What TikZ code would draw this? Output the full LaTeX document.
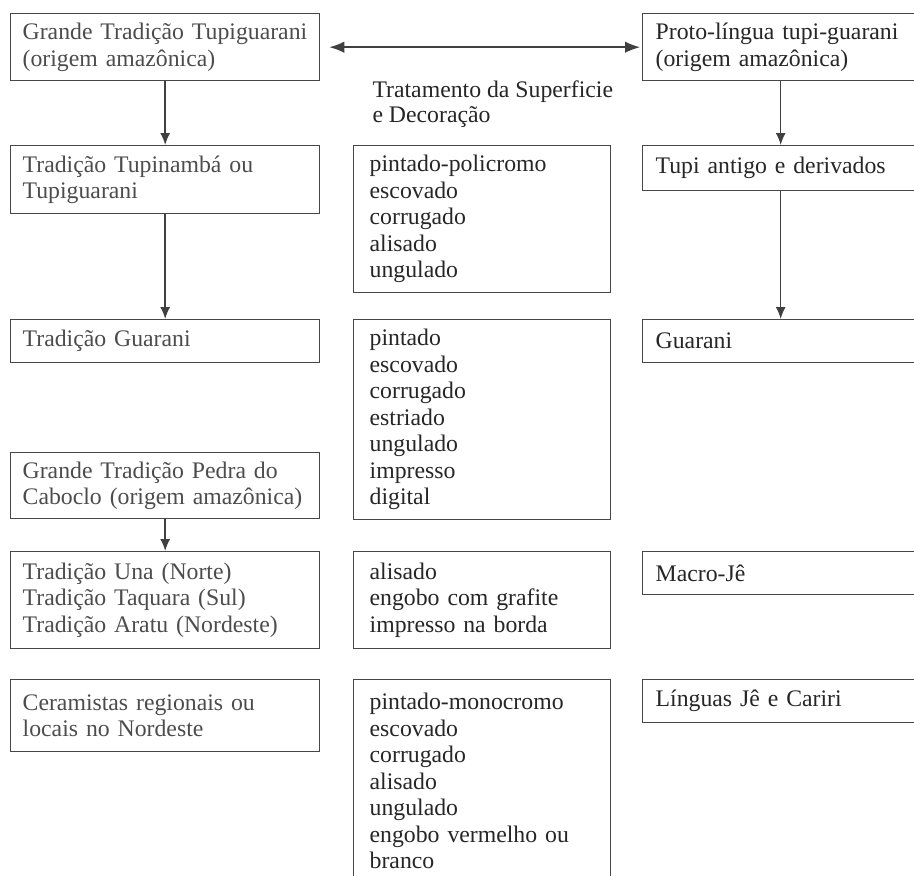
\documentclass[tikz,border=0pt]{standalone}
\usepackage{fontspec}
\setmainfont{Liberation Serif}
\usetikzlibrary{arrows.meta}

\begin{document}
\begin{tikzpicture}[
  x=0.4pt,y=-0.4pt,
  box/.style={
    rectangle,draw=black!72,line width=.55pt,anchor=north west,
    align=left,inner ysep=0pt,font=\fontsize{9.5}{10.6}\selectfont,text=black!85
  },
  tall/.style={minimum height=#1*0.4pt},
  leftbox/.style={box,text width=114pt,inner xsep=4.8pt,text=black!70},
  midbox/.style={box,text width=90pt,inner xsep=6.4pt},
  rightbox/.style={box,text width=100pt,inner xsep=5.2pt},
  heading/.style={
    anchor=north west,align=left,inner sep=0pt,
    font=\fontsize{9.5}{10}\selectfont,text=black!85
  },
  flowarrow/.style={
    -{Latex[length=4.8pt,width=4pt]},draw=black!75,line width=.6pt
  },
  bothways/.style={
    flowarrow,{Latex[length=6pt,width=4.6pt]}-{Latex[length=6pt,width=4.6pt]}
  }
]
  \useasboundingbox (0,0) rectangle (914,875);

  % top row
  \node[leftbox,tall=67] (gtt) at (10,13)
    {Grande Tradição Tupiguarani\\(origem amazônica)};
  \node[rightbox,tall=67] (proto) at (642,13)
    {Proto-língua tupi-guarani\\(origem amazônica)};
  \node[heading] (trat) at (372,80) {Tratamento da Superficie\\e Decoração};

  % second row
  \node[leftbox,tall=68] (tupinamba) at (10,145) {Tradição Tupinambá ou\\Tupiguarani};
  \node[midbox,tall=147] (decA) at (353,145)
    {pintado-policromo\\escovado\\corrugado\\alisado\\ungulado};
  \node[rightbox,tall=45] (tupi) at (642,145) {Tupi antigo e derivados};

  % third row
  \node[leftbox,tall=43] (guarani) at (10,319) {Tradição Guarani};
  \node[midbox,tall=200] (decB) at (353,319)
    {pintado\\escovado\\corrugado\\estriado\\ungulado\\impresso\\digital};
  \node[rightbox,tall=43] (lguarani) at (642,319) {Guarani};
  \node[leftbox,tall=66] (pedra) at (10,452)
    {Grande Tradição Pedra do\\Caboclo (origem amazônica)};

  % fourth row
  \node[leftbox,tall=97] (una) at (10,551)
    {Tradição Una (Norte)\\Tradição Taquara (Sul)\\Tradição Aratu (Nordeste)};
  \node[midbox,tall=97] (decC) at (353,551)
    {alisado\\engobo com grafite\\impresso na borda};
  \node[rightbox,tall=43] (macro) at (642,551) {Macro-Jê};

  % last row, the middle box runs off the page
  \node[leftbox,tall=72] (ceram) at (10,679) {Ceramistas regionais ou\\locais no Nordeste};
  \node[midbox,tall=203] (decD) at (353,679)
    {pintado-monocromo\\escovado\\corrugado\\alisado\\ungulado\\engobo vermelho ou\\branco};
  \node[rightbox,tall=43] (je) at (642,679) {Línguas Jê e Cariri};

  % connectors
  \draw[bothways,shorten <=3.6pt,shorten >=.8pt] (gtt.east) -- (proto.west);
  \draw[flowarrow] (gtt.south) -- (tupinamba.north);
  \draw[flowarrow] (tupinamba.south) -- (guarani.north);
  \draw[flowarrow] (pedra.south) -- (una.north);
  \draw[flowarrow] (proto.south) -- (tupi.north);
  \draw[flowarrow] (tupi.south) -- (lguarani.north);
\end{tikzpicture}
\end{document}
